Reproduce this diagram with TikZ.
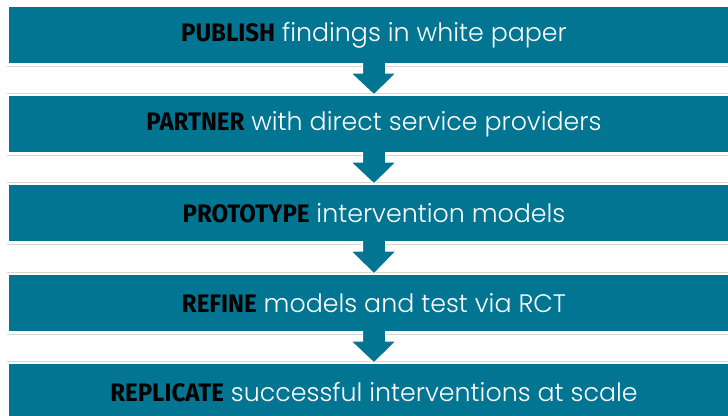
\documentclass[tikz,border=0pt]{standalone}
\usepackage{fontspec}
\usetikzlibrary{calc}
\setmainfont{Poppins}[UprightFont=* Light, BoldFont=* Light]
\newfontfamily\keyfont{Fira Sans}[UprightFont=* Bold, FakeStretch=0.95]
\definecolor{teal}{HTML}{017592}
\definecolor{rule}{HTML}{D6D6D6}
\tikzset{
  stepbox/.style={fill=teal, draw=none, minimum width=730pt, minimum height=56pt,
    inner sep=0pt, text=white, font=\fontsize{25.3}{28}\selectfont},
  downarrow/.style={fill=teal, draw=white, line width=1pt, line join=miter},
  shade line/.style={draw=rule, line width=1pt},
}
\newcommand{\key}[1]{{\keyfont\color{black}#1}}
\begin{document}
\begin{tikzpicture}[x=1pt,y=-1pt]
  \useasboundingbox (0,0) rectangle (728,415);
  \clip (0,0) rectangle (728,415);
  \fill[white] (0,0) rectangle (728,415);

  % the five stages
  \node[stepbox] (b1) at (374,35)  {\key{PUBLISH} findings in white paper};
  \node[stepbox] (b2) at (374,124) {\key{PARTNER} with direct service providers};
  \node[stepbox] (b3) at (374,213) {\key{PROTOTYPE} intervention models};
  \node[stepbox] (b4) at (374,303) {\key{REFINE} models and test via RCT};
  \node[stepbox] (b5) at (374,392) {\key{REPLICATE} successful interventions at scale};

  % thin rules just outside each box
  \foreach \b in {b1,b2,b3,b4}
    \draw[shade line] ($(\b.south west)+(-2,3)$) -- ($(\b.south east)+(0,3)$);
  \foreach \b in {b2,b3,b4,b5}
    \draw[shade line] ($(\b.north west)+(-2,-2)$) -- ($(\b.north east)+(0,-2)$);

  % block arrows between consecutive stages
  \foreach \a/\b in {b1/b2,b2/b3,b3/b4,b4/b5}
    \draw[downarrow]
      ($(\a.south)+(-11.5,0)$) -- ($(\a.south)+(-11.5,10)$) --
      ($(\a.south)+(-23,10)$) -- ($(\b.north)+(0,-1)$) --
      ($(\a.south)+(22,10)$) -- ($(\a.south)+(11.5,10)$) --
      ($(\a.south)+(11.5,0)$);
\end{tikzpicture}
\end{document}
